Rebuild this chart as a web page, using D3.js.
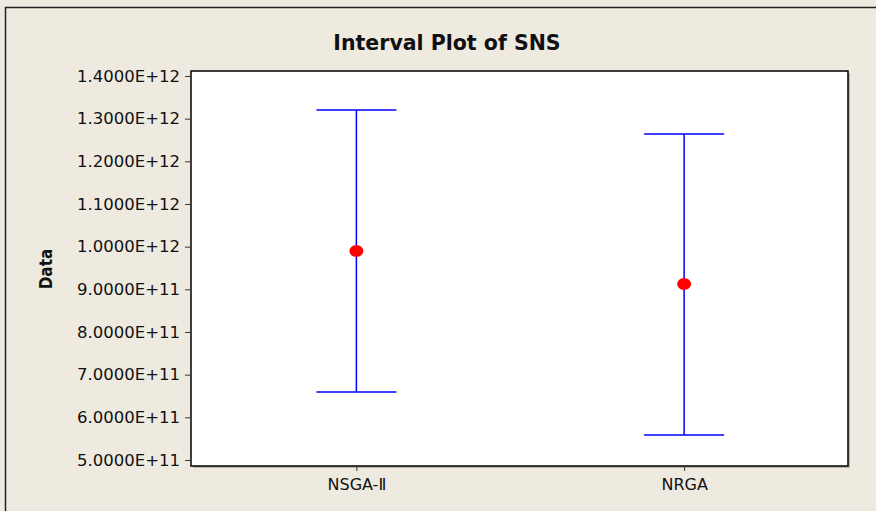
<!DOCTYPE html>
<html>
<head>
<meta charset="utf-8">
<script src="https://cdn.jsdelivr.net/npm/d3@7"></script>
<style>
    body { margin: 0; background: #fff; }
</style>
</head>
<body>
<div id="chart"></div>
<script>
const groups = ["NSGA-Ⅱ", "NRGA"]
const means = [0.990e12, 0.9125e12]
const lowers = [0.6594e12, 0.5587e12]
const uppers = [1.3203e12, 1.2640e12]
const yTicks = [5e11, 6e11, 7e11, 8e11, 9e11, 1e12, 1.1e12, 1.2e12, 1.3e12, 1.4e12]

const drawChart = () => {
    const width = 876
    const height = 511
    const margin = { top: 71, right: 28, bottom: 45, left: 191 }

    const svg = d3.select('#chart').append('svg')
        .attr('width', width)
        .attr('height', height)

    // background + outer frame
    svg.append('rect').attr('width', width).attr('height', height).attr('fill', '#EEEAE0')
    svg.append('path')
        .attr('d', `M5.5,${height} V7.5 H${width}`)
        .attr('fill', 'none').attr('stroke', '#222').attr('stroke-width', 1.5)

    const x = d3.scalePoint()
        .domain(groups)
        .range([margin.left + 1.5, width - margin.right])
        .padding(0.5)

    const y = d3.scaleLinear()
        .domain([0.4859e12, 1.4117e12])
        .range([height - margin.bottom, margin.top])

    // plot area
    svg.append('rect')
        .attr('x', margin.left + 2).attr('y', margin.top + 2)
        .attr('width', width - margin.left - margin.right)
        .attr('height', height - margin.top - margin.bottom)
        .attr('fill', '#b8b5ad')
    svg.append('rect')
        .attr('x', margin.left).attr('y', margin.top)
        .attr('width', width - margin.left - margin.right)
        .attr('height', height - margin.top - margin.bottom)
        .attr('fill', '#fff').attr('stroke', '#000').attr('stroke-width', 1.5)

    const yAxis = svg.append('g')
        .attr('transform', `translate(${margin.left},0)`)
        .call(d3.axisLeft(y).tickValues(yTicks).tickSize(6).tickPadding(5)
            .tickFormat(d => d3.format('.4e')(d).replace('e', 'E').replace(/E\+(\d)$/, 'E+0$1').toUpperCase()))
    yAxis.select('.domain').remove()
    yAxis.selectAll('line').attr('stroke', '#333')
    yAxis.selectAll('text')
        .attr('font-family', 'DejaVu Sans').attr('font-size', '16.5px').attr('fill', '#111')

    const xAxis = svg.append('g')
        .attr('transform', `translate(0,${height - margin.bottom})`)
        .call(d3.axisBottom(x).tickSize(5).tickPadding(8))
    xAxis.select('.domain').remove()
    xAxis.selectAll('line').attr('stroke', '#333')
    xAxis.selectAll('text')
        .attr('font-family', 'DejaVu Sans').attr('font-size', '16px').attr('fill', '#111')

    // intervals
    const capW = 40
    const g = svg.append('g').attr('stroke', '#0000FF').attr('stroke-width', 1.5)
    groups.forEach((name, i) => {
        const cx = x(name)
        g.append('line').attr('x1', cx).attr('x2', cx).attr('y1', y(uppers[i])).attr('y2', y(lowers[i]))
        g.append('line').attr('x1', cx - capW).attr('x2', cx + capW).attr('y1', y(uppers[i])).attr('y2', y(uppers[i]))
        g.append('line').attr('x1', cx - capW).attr('x2', cx + capW).attr('y1', y(lowers[i])).attr('y2', y(lowers[i]))
    })

    svg.append('g').selectAll('ellipse')
        .data(means)
        .enter().append('ellipse')
        .attr('cx', (d, i) => x(groups[i]))
        .attr('cy', d => y(d))
        .attr('rx', 7).attr('ry', 6)
        .attr('fill', '#FF0000')

    svg.append('text')
        .attr('x', 447).attr('y', 50)
        .attr('text-anchor', 'middle')
        .attr('font-family', 'DejaVu Sans').attr('font-weight', 'bold')
        .attr('font-size', '20.5px').attr('fill', '#111')
        .text('Interval Plot of SNS')

    svg.append('text')
        .attr('transform', 'translate(52,269) rotate(-90)')
        .attr('text-anchor', 'middle')
        .attr('font-family', 'DejaVu Sans Condensed, DejaVu Sans').attr('font-weight', 'bold')
        .attr('font-size', '17px').attr('fill', '#111')
        .text('Data')
}

drawChart()
</script>
</body>
</html>
